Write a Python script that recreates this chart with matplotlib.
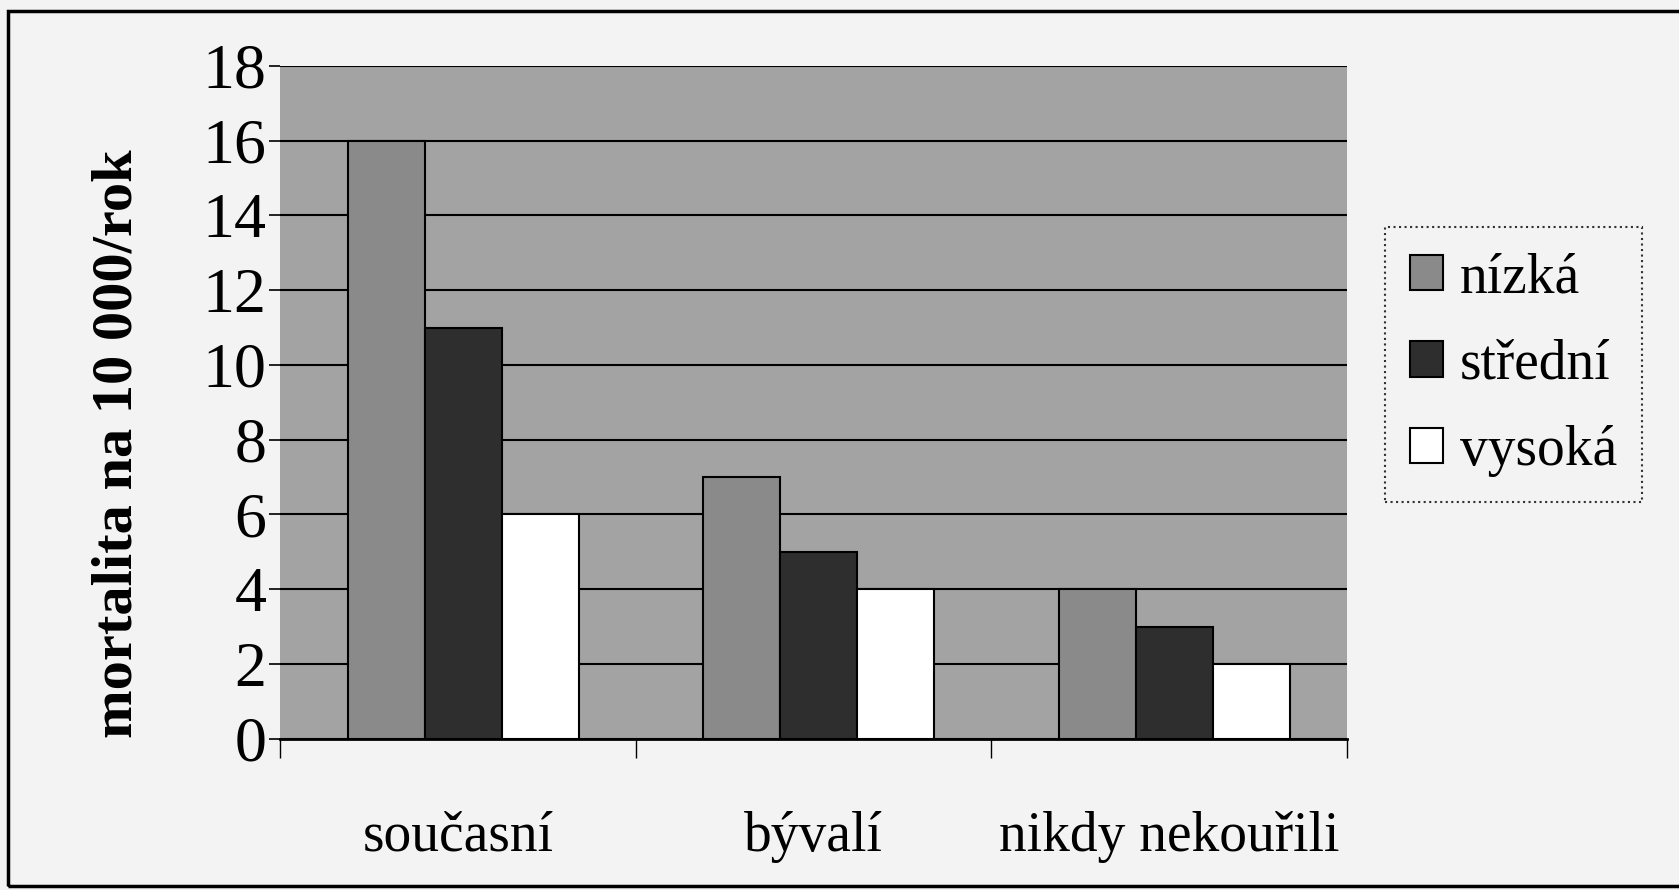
import numpy as np
import matplotlib
matplotlib.use('Agg')
import matplotlib.pyplot as plt
from matplotlib.patches import Rectangle

# mortalita podle kuractvi a fyzicke aktivity
kategorie = ['současní', 'bývalí', 'nikdy nekouřili']
nizka = [16, 7, 4]
stredni = [11, 5, 3]
vysoka = [6, 4, 2]
serie = ['nízká', 'střední', 'vysoká']
barvy = ['#8a8a8a', '#2e2e2e', '#ffffff']

plt.rcParams['font.family'] = ['Liberation Serif', 'DejaVu Serif']

fig = plt.figure(figsize=(16.79, 8.9), dpi=100)
fig.patch.set_facecolor('#f3f3f3')
ax = fig.add_axes([0.167, 0.170, 0.635, 0.756])
ax.set_facecolor('#a3a3a3')

x = np.arange(len(kategorie))
w = 0.217
for i, (vals, name) in enumerate(zip([nizka, stredni, vysoka], serie)):
    ax.bar(x + (i - 1) * w + 0.015, vals, w, color=barvy[i], edgecolor='black',
           linewidth=1.5, label=name, zorder=3)

ax.set_xlim(-0.5, 2.5)
ax.set_ylim(0, 18)
ax.set_yticks(range(0, 19, 2))
ax.yaxis.grid(True, color='black', linewidth=1.5, zorder=1)
ax.tick_params(axis='y', labelsize=46, length=8, width=1.2, pad=2)

ax.set_xticks(x)
ax.set_xticklabels(kategorie, fontsize=40)
ax.tick_params(axis='x', which='major', length=0, pad=52)
ax.set_xticks([-0.5, 0.5, 1.5, 2.5], minor=True)
ax.tick_params(axis='x', which='minor', length=14, width=1, direction='out')

for s in ['top', 'right', 'left']:
    ax.spines[s].set_visible(False)
ax.spines['bottom'].set_linewidth(2)

ax.set_ylabel('mortalita na 10 000/rok', fontsize=42, fontweight='bold')
ax.yaxis.set_label_coords(-0.128, 0.438)

leg = ax.legend(loc='center left', bbox_to_anchor=(1.01, 0.556), fontsize=40,
                frameon=True, fancybox=False, edgecolor='black', facecolor='#f3f3f3',
                handlelength=0.6, handleheight=0.6, handletextpad=0.3,
                labelspacing=0.62, borderpad=0.45)
leg.get_frame().set_linestyle(':')
leg.get_frame().set_linewidth(1.5)

# ramecek kolem celeho grafu
fig.patches.append(Rectangle((0.005, 0.004), 1.2, 0.984, transform=fig.transFigure,
                             fill=False, edgecolor='black', linewidth=2.5))

fig.savefig('out.png', dpi=100, facecolor=fig.get_facecolor())
